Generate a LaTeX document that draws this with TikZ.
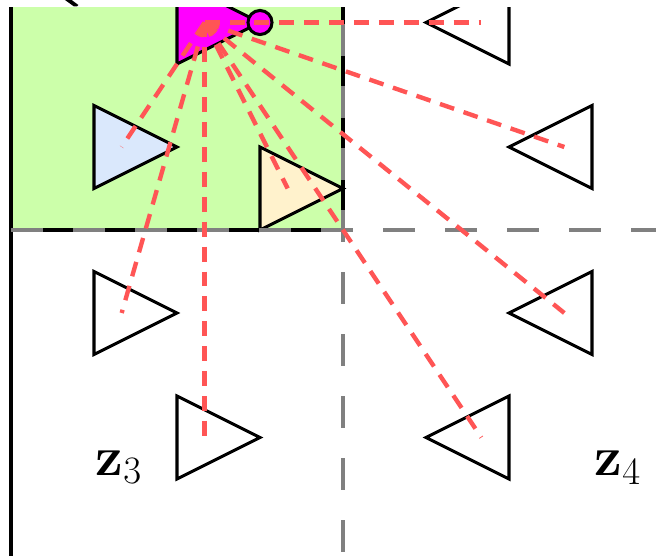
\RequirePackage{fix-cm}
\documentclass[tikz,border=0pt]{standalone}
\usepackage{amsmath}
\begin{document}
\begin{tikzpicture}[x=1cm,y=1cm,
  tri/.style={draw=black,line width=2.1pt,line join=miter},
  gridline/.style={draw={rgb,255:red,128;green,128;blue,128},line width=2.8pt,dash pattern=on 0.76cm off 0.735cm},
  ray/.style={draw={rgb,255:red,255;green,85;blue,85},line width=3pt,dash pattern=on 0.36cm off 0.24cm},
  lbl/.style={inner sep=0pt,font=\fontsize{38}{42}\selectfont}]
\definecolor{greenbg}{RGB}{204,255,170}
\definecolor{bluefill}{RGB}{218,232,252}
\definecolor{yellowfill}{RGB}{255,242,204}
\definecolor{magentafill}{RGB}{255,0,255}
\useasboundingbox (-8.265,-7.855) rectangle (7.542,5.542);
% arrow fragment at the top
\fill[black] (-6.699,5.542) -- (-6.537,5.542) -- (-6.378,5.422) -- (-6.410,5.386) -- (-6.482,5.386) -- cycle;
\begin{scope}
\clip (-8.3,-7.9) rectangle (7.6,5.37);
% green region
\fill[greenbg] (-8,0) rectangle (0,5.6);
\draw[black,line width=2.4pt] (-8,-7.9) -- (-8,5.6);
\draw[black,line width=2.4pt] (-8,0) -- (0,0) -- (0,5.6);
% triangles (pointing right)
\draw[tri,fill=magentafill] (-4,6) -- (-4,4) -- (-2,5) -- cycle;
\draw[tri,fill=magentafill] (-2,5) circle (0.29);
\draw[tri,fill=bluefill] (-6,3) -- (-6,1) -- (-4,2) -- cycle;
\draw[tri,fill=yellowfill] (-2,2) -- (-2,0) -- (0,1) -- cycle;
\draw[tri,fill=white] (-6,-1) -- (-6,-3) -- (-4,-2) -- cycle;
\draw[tri,fill=white] (-4,-4) -- (-4,-6) -- (-2,-5) -- cycle;
% triangles (pointing left)
\draw[tri,fill=white] (4,6) -- (4,4) -- (2,5) -- cycle;
\draw[tri,fill=white] (6,3) -- (6,1) -- (4,2) -- cycle;
\draw[tri,fill=white] (6,-1) -- (6,-3) -- (4,-2) -- cycle;
\draw[tri,fill=white] (4,-4) -- (4,-6) -- (2,-5) -- cycle;
% grid lines
\draw[gridline] (-8,0) -- (7.6,0);
\draw[gridline] (0,6.458) -- (0,-7.9);
% centroids
\coordinate (mag) at (-3.333,5);
\coordinate (blue) at (-5.333,2);
\coordinate (yel) at (-1.333,1);
\coordinate (wa) at (-5.333,-2);
\coordinate (wb) at (-3.333,-5);
\coordinate (ra) at (3.333,5);
\coordinate (rb) at (5.333,2);
\coordinate (rc) at (5.333,-2);
\coordinate (rd) at (3.333,-5);
% rays
\foreach \t in {blue,yel,wa,wb,ra,rb,rc,rd} \draw[ray] (mag) -- (\t);
\end{scope}
\node[lbl] (z3) at (-5.4,-5.71) {$\mathbf{z}_3$};
\node[lbl] (z4) at (6.62,-5.73) {$\mathbf{z}_4$};
\end{tikzpicture}
\end{document}
